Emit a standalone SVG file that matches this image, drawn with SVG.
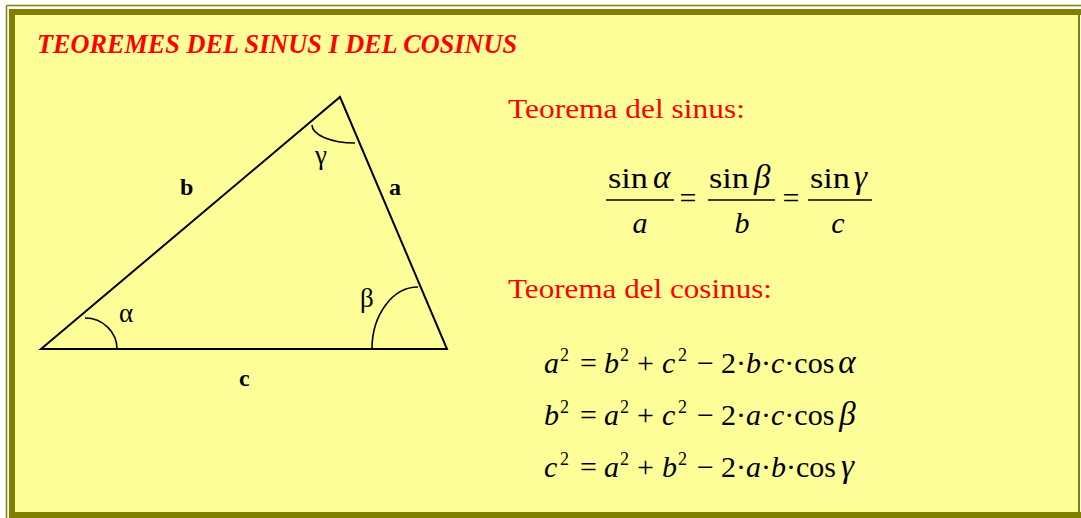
<svg xmlns="http://www.w3.org/2000/svg" width="1081" height="518" viewBox="0 0 1081 518">
<style>
.ttl{font-family:"Liberation Serif",serif;font-weight:bold;font-style:italic;fill:#FF0000;font-size:28px}
.hd{font-family:"Liberation Serif",serif;fill:#FF0000;font-size:27px}
.m{font-family:"Liberation Serif","Times New Roman",serif;fill:#000;font-size:30px}
.it{font-style:italic}
.gk{font-style:italic;font-size:33px}
.sup{font-size:18px}
.lbl{font-family:"Liberation Serif",serif;fill:#000;font-size:24px}
.gl{font-family:"Liberation Serif",serif;fill:#000;font-size:27px}
.bold{font-weight:bold}
.edge{fill:none;stroke:#000;stroke-width:2}
.arc{fill:none;stroke:#000;stroke-width:1.6}
.bar{stroke:#000;stroke-width:1.5}
</style>
<g id="frame">
<rect x="0" y="0" width="1081" height="518" fill="#FFFFFF"/>
<rect x="15" y="15" width="1064" height="497" fill="#FFFF99"/>
<line x1="6.5" y1="5.5" x2="1081" y2="5.5" stroke="#808000" stroke-width="1.5"/>
<line x1="6.5" y1="5.5" x2="6.5" y2="518" stroke="#808000" stroke-width="1.5"/>
<rect x="9" y="9" width="1072" height="6" fill="#808000"/>
<rect x="9" y="9" width="6" height="509" fill="#808000"/>
<rect x="9" y="512" width="1072" height="6" fill="#808000"/>
<rect x="1078" y="15" width="2" height="497" fill="#808000"/>
</g>
<g id="title">
<text class="ttl" x="37" y="53" textLength="480" lengthAdjust="spacingAndGlyphs">TEOREMES DEL SINUS I DEL COSINUS</text>
</g>
<g id="triangle">
<polygon class="edge" points="41,349 340,97 447,349"/>
<path class="arc" d="M85,318 A32,31 0 0,1 117,349"/>
<path class="arc" d="M372,349 A46,62 0 0,1 418,287"/>
<path class="arc" d="M312,125 A43,18 0 0,0 355,143"/>
<text class="lbl bold" x="180" y="195">b</text>
<text class="lbl bold" x="389" y="195">a</text>
<text class="lbl bold" x="239" y="386">c</text>
<text class="gl" x="315" y="164">γ</text>
<text class="gl" x="119" y="322">α</text>
<text class="gl" x="360" y="307">β</text>
</g>
<g id="sinus">
<text class="hd" x="508" y="118" textLength="237" lengthAdjust="spacingAndGlyphs">Teorema del sinus:</text>
<text class="m" x="608" y="188" font-size="32" textLength="40" lengthAdjust="spacingAndGlyphs">sin</text>
<text class="m gk" x="653" y="188">α</text>
<text class="m" x="709" y="188" font-size="32" textLength="40" lengthAdjust="spacingAndGlyphs">sin</text>
<text class="m gk" x="754" y="188">β</text>
<text class="m" x="810" y="188" font-size="32" textLength="40" lengthAdjust="spacingAndGlyphs">sin</text>
<text class="m gk" x="854" y="188">γ</text>
<line class="bar" x1="606" y1="200" x2="674" y2="200"/>
<line class="bar" x1="708" y1="200" x2="775" y2="200"/>
<line class="bar" x1="808" y1="200" x2="872" y2="200"/>
<text class="m" x="688" y="208" text-anchor="middle" font-size="34">=</text>
<text class="m" x="791" y="208" text-anchor="middle" font-size="34">=</text>
<text class="m it" x="640" y="233" text-anchor="middle">a</text>
<text class="m it" x="742" y="233" text-anchor="middle">b</text>
<text class="m it" x="838" y="233" text-anchor="middle">c</text>
</g>
<g id="cosinus">
<text class="hd" x="508" y="298" textLength="264" lengthAdjust="spacingAndGlyphs">Teorema del cosinus:</text>
<text class="m"><tspan class="it" x="544" y="373">a</tspan><tspan class="sup" x="560" y="361">2</tspan><tspan x="580" y="373">=</tspan><tspan class="it" x="604" y="373">b</tspan><tspan class="sup" x="620" y="361">2</tspan><tspan x="637" y="373">+</tspan><tspan class="it" x="662" y="373">c</tspan><tspan class="sup" x="678" y="361">2</tspan><tspan x="697" y="373">−</tspan><tspan x="721" y="373">2·<tspan class="it">b</tspan>·<tspan class="it">c</tspan>·cos</tspan><tspan class="gk" dx="4">α</tspan></text>
<text class="m"><tspan class="it" x="544" y="425">b</tspan><tspan class="sup" x="560" y="413">2</tspan><tspan x="580" y="425">=</tspan><tspan class="it" x="604" y="425">a</tspan><tspan class="sup" x="620" y="413">2</tspan><tspan x="637" y="425">+</tspan><tspan class="it" x="662" y="425">c</tspan><tspan class="sup" x="678" y="413">2</tspan><tspan x="697" y="425">−</tspan><tspan x="721" y="425">2·<tspan class="it">a</tspan>·<tspan class="it">c</tspan>·cos</tspan><tspan class="gk" dx="5">β</tspan></text>
<text class="m"><tspan class="it" x="544" y="477">c</tspan><tspan class="sup" x="560" y="465">2</tspan><tspan x="580" y="477">=</tspan><tspan class="it" x="604" y="477">a</tspan><tspan class="sup" x="620" y="465">2</tspan><tspan x="637" y="477">+</tspan><tspan class="it" x="662" y="477">b</tspan><tspan class="sup" x="678" y="465">2</tspan><tspan x="697" y="477">−</tspan><tspan x="721" y="477">2·<tspan class="it">a</tspan>·<tspan class="it">b</tspan>·cos</tspan><tspan class="gk" dx="5">γ</tspan></text>
</g>
</svg>
